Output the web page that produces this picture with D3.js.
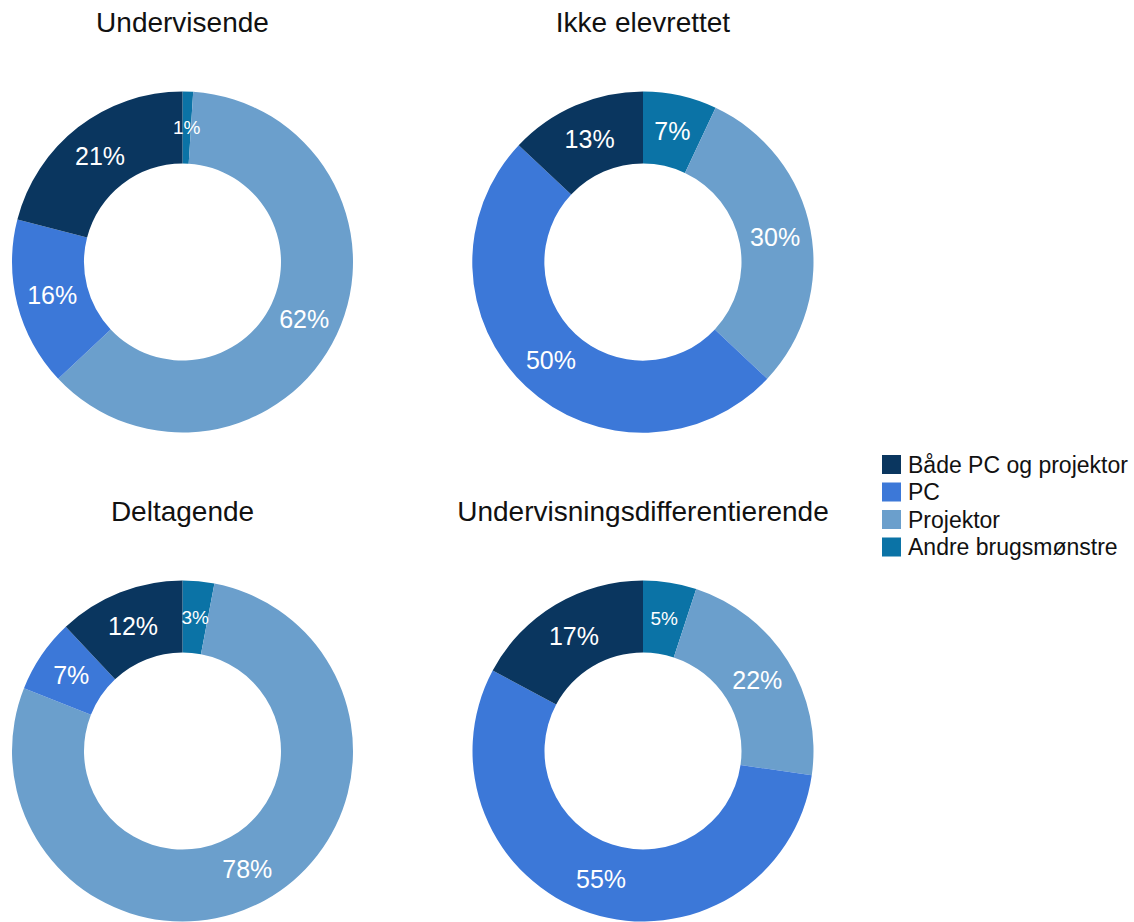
<!DOCTYPE html>
<html>
<head>
<meta charset="utf-8">
<script src="https://cdn.jsdelivr.net/npm/d3@7"></script>
<style>
  html, body { margin: 0; padding: 0; background: #fff; }
  svg { display: block; font-family: "Liberation Sans", Arial, Helvetica, sans-serif; }
</style>
</head>
<body>
<svg id="chart" width="1134" height="922"></svg>
<script>
// Usage patterns per teaching situation (share of lessons, %)
const panels = ["Undervisende", "Ikke elevrettet", "Deltagende", "Undervisningsdifferentierende"];
const categories = ["Både PC og projektor", "PC", "Projektor", "Andre brugsmønstre"];
const bothPcProjector = [21, 13, 12, 17];
const pcOnly = [16, 50, 7, 55];
const projectorOnly = [62, 30, 78, 22];
const otherPatterns = [1, 7, 3, 5];

const colors = {
  "Både PC og projektor": "#0a365f",
  "PC": "#3c78d8",
  "Projektor": "#6b9fcc",
  "Andre brugsmønstre": "#0b73a6"
};

// Clockwise order from 12 o'clock
const sliceOrder = ["Andre brugsmønstre", "Projektor", "PC", "Både PC og projektor"];
const valueOf = {
  "Både PC og projektor": bothPcProjector,
  "PC": pcOnly,
  "Projektor": projectorOnly,
  "Andre brugsmønstre": otherPatterns
};

const svg = d3.select("#chart");
const outerR = 170.5, innerR = 98.5;
const colX = d3.scaleOrdinal().domain([0, 1]).range([182.5, 643]);
const rowY = d3.scaleOrdinal().domain([0, 1]).range([262, 751]);

const pie = d3.pie().sort(null).value(d => d.value);
const arc = d3.arc().innerRadius(innerR).outerRadius(outerR);

panels.forEach((title, i) => {
  const cx = colX(i % 2), cy = rowY(Math.floor(i / 2));
  const data = sliceOrder.map(k => ({ key: k, value: valueOf[k][i] }));
  const g = svg.append("g").attr("transform", `translate(${cx},${cy})`);

  g.selectAll("path.slice")
    .data(pie(data))
    .join("path")
    .attr("class", "slice")
    .attr("d", arc)
    .attr("fill", d => colors[d.data.key]);

  g.selectAll("text.value")
    .data(pie(data))
    .join("text")
    .attr("class", "value")
    .attr("transform", d => `translate(${arc.centroid(d)})`)
    .attr("text-anchor", "middle")
    .attr("dy", "0.36em")
    .attr("fill", "#fff")
    .attr("font-size", d => d.data.value <= 5 ? 19 : 25)
    .text(d => d.data.value + "%");

  svg.append("text")
    .attr("x", cx)
    .attr("y", cy - 230)
    .attr("text-anchor", "middle")
    .attr("font-size", 28)
    .attr("fill", "#111")
    .text(title);
});

// Legend
const legend = svg.append("g").attr("transform", "translate(882,455)");
const rows = legend.selectAll("g")
  .data(categories)
  .join("g")
  .attr("transform", (d, i) => `translate(0,${i * 27.5})`);
rows.append("rect")
  .attr("width", 19).attr("height", 19)
  .attr("fill", d => colors[d]);
rows.append("text")
  .attr("x", 26).attr("y", 9.5)
  .attr("dy", "0.36em")
  .attr("font-size", 23)
  .attr("fill", "#111")
  .text(d => d);
</script>
</body>
</html>
